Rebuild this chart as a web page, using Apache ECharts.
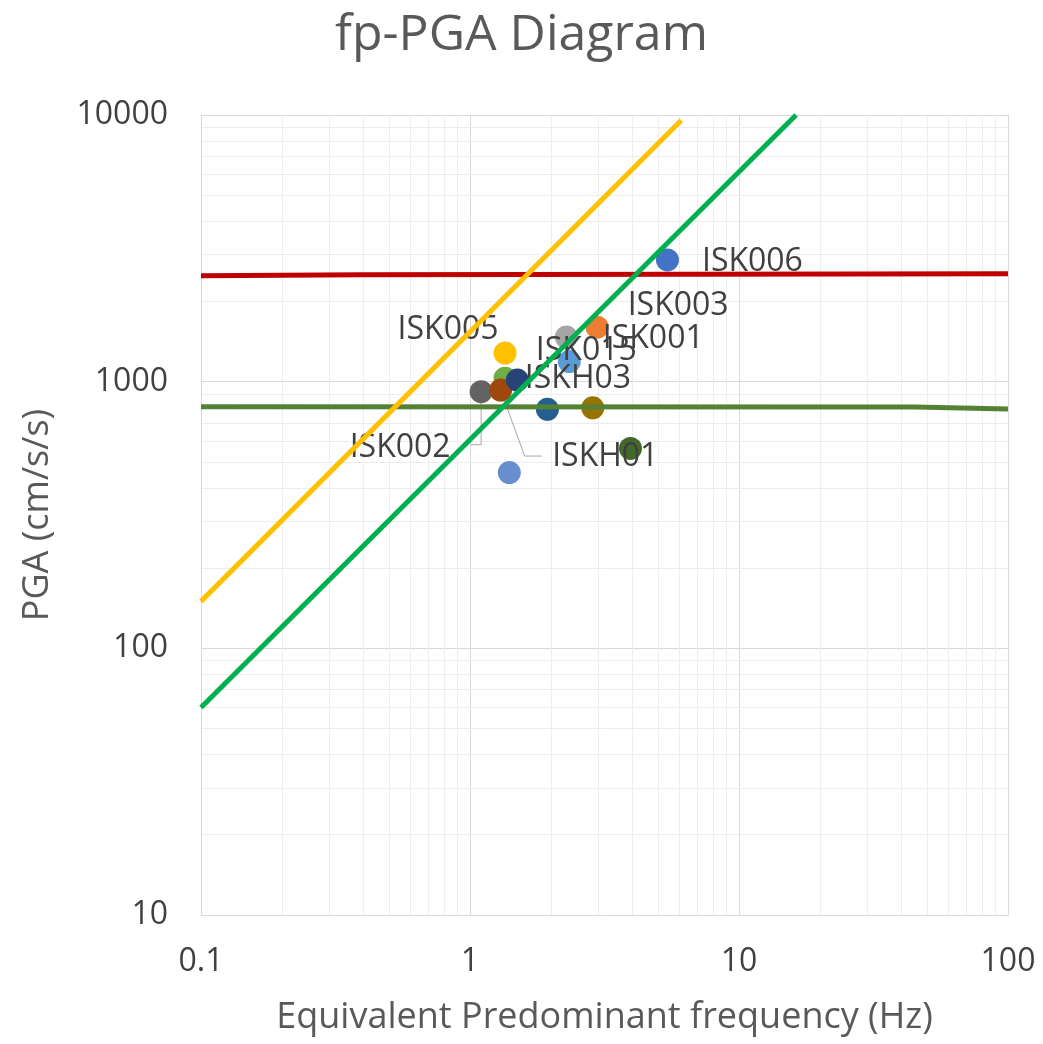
<!DOCTYPE html>
<html>
<head>
<meta charset="utf-8">
<title>fp-PGA Diagram</title>
<script src="https://cdn.jsdelivr.net/npm/echarts@6/dist/echarts.min.js"></script>
<style>
  html, body { margin: 0; padding: 0; background: #ffffff; }
  #chart { width: 1043px; height: 1044px; }
</style>
</head>
<body>
<div id="chart"></div>
<script>
// Station observations: equivalent predominant frequency (Hz) and PGA (cm/s/s)
const stations = ['ISK006', 'ISK003', 'ISK001', 'ISK005', 'ISK015', '', 'ISK002', 'ISKH01', 'ISKH03', '', '', '', ''];
const freqHz   = [5.42, 2.97, 2.28, 1.35, 2.34, 1.35, 1.10, 1.30, 1.50, 2.86, 1.94, 3.95, 1.40];
const pgaVals  = [2860, 1600, 1470, 1280, 1190, 1030, 917, 930, 1014, 798, 788, 562, 456];

// Reference lines (frequency, PGA)
const redLine       = [[0.1, 2495], [0.4, 2515], [100, 2540]];
const oliveLine     = [[0.1, 805], [45, 803], [100, 790]];
const yellowDiag    = [[0.1, 150], [6.1, 9550]];
const greenDiag     = [[0.1, 60], [16.3, 10000]];

// Axis tick labels
const xTickLabels = { '0.1': '0.1', '1': '1', '10': '10', '100': '100' };
const yTickLabels = { '10': '10', '100': '100', '1000': '1000', '10000': '10000' };

// Marker colours, one per station
const pointColors = ['#4472C4', '#ED7D31', '#A5A5A5', '#FFC000', '#5B9BD5', '#70AD47',
                     '#636363', '#9E480E', '#264478', '#997300', '#255E91', '#43682B', '#698ED0'];

// Label placement per station: side of the marker and shift in px.
// "leader" gives the elbow of a guide line, relative to the marker centre:
// [x of the bend, y of the horizontal run, x where the run ends]
const labelPlacement = {
  ISK006: { position: 'right', shift: [23, 2] },
  ISK003: { position: 'right', shift: [19, -21] },
  ISK001: { position: 'right', shift: [25, 2] },
  ISK005: { position: 'left',  shift: [5, -23] },
  ISK015: { position: 'right', shift: [-45, -11] },
  ISKH03: { position: 'right', shift: [-4, -1] },
  ISK002: { position: 'left',  shift: [-19, 56], leader: [0, 53, -10] },
  ISKH01: { position: 'right', shift: [40, 67], leader: [24, 66, 41] }
};

// Minor log gridline positions (2..9 within each decade)
function minorSteps(decades) {
  const out = [];
  decades.forEach(function (d) {
    for (let k = 2; k <= 9; k++) out.push(+(d * k).toPrecision(6));
  });
  return out;
}
const xMinor = minorSteps([0.1, 1, 10]);
const yMinor = minorSteps([10, 100, 1000]);

const FONT = '"Open Sans", "Noto Sans", sans-serif';

function tickText(map) {
  return function (v) {
    const key = String(+v.toPrecision(6));
    return map[key] !== undefined ? map[key] : '';
  };
}

const pointData = freqHz.map(function (f, i) {
  const name = stations[i];
  const place = labelPlacement[name];
  const item = {
    name: name,
    value: [f, pgaVals[i]],
    itemStyle: { color: pointColors[i], opacity: 1 }
  };
  item.label = place ? { show: true, position: place.position, distance: 0 } : { show: false };
  return item;
});

function lineSeries(data, color) {
  return {
    type: 'line',
    data: data,
    showSymbol: false,
    symbol: 'none',
    silent: true,
    z: 4,
    lineStyle: { color: color, width: 5 }
  };
}

const chart = echarts.init(document.getElementById('chart'), null, { renderer: 'canvas' });

const option = {
  backgroundColor: '#ffffff',
  animation: false,
  textStyle: { fontFamily: FONT },
  title: {
    text: 'fp-PGA Diagram',
    left: 'center',
    top: 6,
    textStyle: { fontFamily: FONT, fontSize: 50, fontWeight: 'normal', color: '#595959' }
  },
  grid: { left: 201, top: 115, width: 807, height: 800 },
  xAxis: {
    type: 'log',
    logBase: 10,
    min: 0.1,
    max: 100,
    name: 'Equivalent Predominant frequency (Hz)',
    nameLocation: 'middle',
    nameGap: 85,
    nameTextStyle: { fontFamily: FONT, fontSize: 36, color: '#595959' },
    axisLine: { show: true, lineStyle: { color: '#d9d9d9', width: 1 } },
    axisTick: { show: false },
    axisLabel: { fontFamily: FONT, fontSize: 32, color: '#404040', margin: 31, formatter: tickText(xTickLabels) },
    splitLine: { show: true, lineStyle: { color: '#d9d9d9', width: 1 } }
  },
  yAxis: {
    type: 'log',
    logBase: 10,
    min: 10,
    max: 10000,
    name: 'PGA (cm/s/s)',
    nameLocation: 'middle',
    nameGap: 145,
    nameRotate: 90,
    nameTextStyle: { fontFamily: FONT, fontSize: 36, color: '#595959' },
    axisLine: { show: true, lineStyle: { color: '#d9d9d9', width: 1 } },
    axisTick: { show: false },
    axisLabel: { fontFamily: FONT, fontSize: 32, color: '#404040', margin: 33, formatter: tickText(yTickLabels) },
    splitLine: { show: true, lineStyle: { color: '#d9d9d9', width: 1 } }
  },
  series: [
    {
      // minor gridlines on the log axes, kept beneath every mark
      type: 'scatter',
      silent: true,
      data: [],
      z: 0,
      markLine: {
        silent: true,
        z: 0,
        symbol: 'none',
        label: { show: false },
        animation: false,
        emphasis: { disabled: true },
        lineStyle: { color: '#ededed', width: 1, type: 'solid' },
        data: xMinor.map(function (v) { return { xAxis: v }; })
          .concat(yMinor.map(function (v) { return { yAxis: v }; }))
      }
    },
    {
      type: 'scatter',
      data: pointData,
      symbol: 'circle',
      symbolSize: 23,
      z: 3,
      itemStyle: { opacity: 1 },
      label: {
        formatter: '{b}',
        fontFamily: FONT,
        fontSize: 32,
        color: '#404040'
      },
      labelLayout: function (params) {
        const place = labelPlacement[stations[params.dataIndex]];
        if (place) {
          return { dx: place.shift[0], dy: place.shift[1] };
        }
        return {};
      }
    },
    lineSeries(redLine, '#C00000'),
    lineSeries(oliveLine, '#548235'),
    lineSeries(yellowDiag, '#FFC000'),
    lineSeries(greenDiag, '#00B050')
  ]
};

chart.setOption(option);

// Elbow leader lines for labels moved away from their markers,
// anchored at the marker position given by the chart's own scales.
const leaders = [];
stations.forEach(function (name, i) {
  const place = labelPlacement[name];
  if (!place || !place.leader) return;
  const c = chart.convertToPixel({ seriesIndex: 1 }, [freqHz[i], pgaVals[i]]);
  const l = place.leader;
  leaders.push({
    type: 'polyline',
    silent: true,
    z: 2,
    shape: {
      points: [
        [c[0], c[1]],
        [c[0] + l[0], c[1] + l[1]],
        [c[0] + l[2], c[1] + l[1]]
      ]
    },
    style: { stroke: '#a6a6a6', lineWidth: 1, fill: null }
  });
});
chart.setOption({ graphic: leaders });
</script>
</body>
</html>
